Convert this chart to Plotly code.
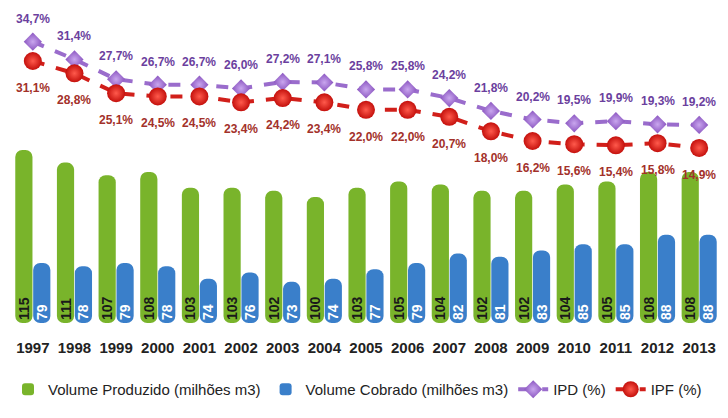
import plotly.graph_objects as go

years = list(range(1997, 2014))
vol_produzido = [115, 111, 107, 108, 103, 103, 102, 100, 103, 105, 104, 102, 102, 104, 105, 108, 108]
vol_cobrado = [79, 78, 79, 78, 74, 76, 73, 74, 77, 79, 82, 81, 83, 85, 85, 88, 88]
ipd = [34.7, 31.4, 27.7, 26.7, 26.7, 26.0, 27.2, 27.1, 25.8, 25.8, 24.2, 21.8, 20.2, 19.5, 19.9, 19.3, 19.2]
ipf = [31.1, 28.8, 25.1, 24.5, 24.5, 23.4, 24.2, 23.4, 22.0, 22.0, 20.7, 18.0, 16.2, 15.6, 15.4, 15.8, 14.9]

def pct(v):
    return f"{v:.1f}".replace(".", ",") + "%"

FONT = "Liberation Sans, Arial, sans-serif"
GREEN = "#79b42b"
BLUE = "#3a7fca"
PURPLE = "#9a6ccc"
PURPLE_TXT = "#6b3f9e"
RED = "#d11f1a"
RED_TXT = "#a3312a"

# volume axis is truncated: bars start at the bottom of the visible range
VOL_MIN, VOL_MAX = 59.9, 159.6

fig = go.Figure()

# rounded coloured bars
for vals, name, color, grp in [(vol_produzido, "Volume Produzido (milhões m3)", GREEN, "p"),
                               (vol_cobrado, "Volume Cobrado (milhões m3)", BLUE, "c")]:
    fig.add_trace(go.Bar(
        x=years, y=[v - VOL_MIN for v in vals], base=VOL_MIN, name=name,
        offsetgroup=grp, marker=dict(color=color, cornerradius="45%", line=dict(width=0)),
        yaxis="y", hoverinfo="skip",
    ))

# transparent twin bars carrying the value labels (same slots)
for vals, txtcolor, grp in [(vol_produzido, "#1a1a1a", "p"), (vol_cobrado, "white", "c")]:
    fig.add_trace(go.Bar(
        x=years, y=[v - VOL_MIN for v in vals], base=VOL_MIN, showlegend=False,
        offsetgroup=grp, marker=dict(color="rgba(0,0,0,0)", line=dict(width=0)),
        text=[str(v) for v in vals], textposition="inside",
        insidetextanchor="start", textangle=-90, constraintext="none",
        insidetextfont=dict(color=txtcolor, size=14, family=FONT, weight="bold"),
        yaxis="y", hovertemplate="%{text}<extra></extra>",
    ))

fig.add_trace(go.Scatter(
    x=years, y=ipd, name="IPD (%)", mode="lines+markers", yaxis="y2",
    line=dict(color=PURPLE, width=4, dash="dash"),
    marker=dict(symbol="diamond", size=14, color="#8a55c0",
                gradient=dict(type="radial", color="#c9a6ee")),
))
fig.add_trace(go.Scatter(
    x=years, y=ipf, name="IPF (%)", mode="lines+markers", yaxis="y2",
    line=dict(color=RED, width=4, dash="dash"),
    marker=dict(symbol="circle", size=18, color="#c4100c",
                gradient=dict(type="radial", color="#ff5a4c")),
))

annotations = []
for x, v in zip(years, ipd):
    annotations.append(dict(x=x, y=v, xref="x", yref="y2", text=pct(v), showarrow=False,
                            yshift=23, font=dict(color=PURPLE_TXT, size=12, family=FONT, weight="bold")))
for x, v in zip(years, ipf):
    annotations.append(dict(x=x, y=v, xref="x", yref="y2", text=pct(v), showarrow=False,
                            yshift=-27, font=dict(color=RED_TXT, size=12, family=FONT, weight="bold")))

fig.update_layout(
    width=712, height=398,
    margin=dict(l=4, r=0, t=2, b=72),
    paper_bgcolor="white", plot_bgcolor="white",
    barmode="group", bargap=0.14, bargroupgap=0.04,
    font=dict(family=FONT, color="#333"),
    xaxis=dict(type="linear", range=[1996.5, 2013.5], tickmode="array", tickvals=years,
               ticktext=[str(y) for y in years],
               showgrid=False, showline=False, zeroline=False,
               ticks="outside", ticklen=11, tickcolor="rgba(0,0,0,0)",
               tickfont=dict(size=15, color="#222", family=FONT, weight="bold")),
    yaxis=dict(range=[VOL_MIN, VOL_MAX], visible=False, showgrid=False),
    yaxis2=dict(range=[-17.7, 40.6], overlaying="y", visible=False, showgrid=False),
    showlegend=True,
    legend=dict(orientation="h", x=-0.006, xanchor="left", y=-0.214, yanchor="middle",
                font=dict(size=15, color="#222", family=FONT), traceorder="normal",
                itemwidth=30, tracegroupgap=0, bgcolor="rgba(0,0,0,0)"),
    annotations=annotations,
)

fig.write_html("out.html")
